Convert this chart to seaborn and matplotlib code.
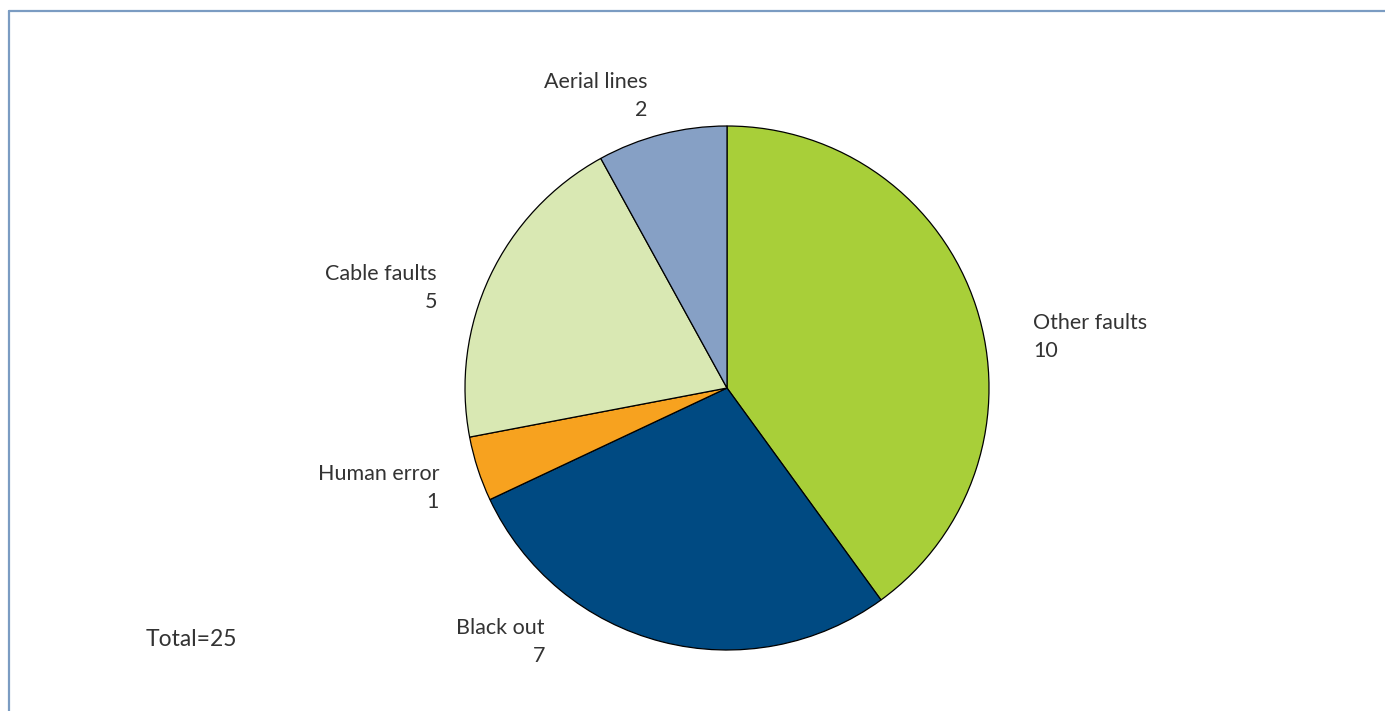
import matplotlib
matplotlib.use("Agg")
import matplotlib.pyplot as plt
import seaborn as sns
from matplotlib.lines import Line2D

# Data
causes = ["Other faults", "Black out", "Human error", "Cable faults", "Aerial lines"]
counts = [10, 7, 1, 5, 2]
colours = ["#a8cf39", "#004a82", "#f7a21f", "#d9e8b3", "#86a0c5"]
total_label = "Total=25"

sns.set_style("white")
plt.rcParams["font.family"] = ["Lato", "DejaVu Sans"]

fig = plt.figure(figsize=(13.85, 7.11), dpi=100)
ax = fig.add_axes([0, 0, 1, 1])

labels = [f"{c}\n{n}" for c, n in zip(causes, counts)]
wedges, texts = ax.pie(counts, colors=colours, labels=labels, startangle=90,
                       counterclock=False,
                       wedgeprops=dict(edgecolor="black", linewidth=0.9),
                       textprops=dict(fontsize=15.5, color="#333333", linespacing=1.5))

# label placement like the original (data units, radius = 1)
label_pos = {
    "Other faults": (1.168, 0.195, "left"),
    "Black out": (-0.695, -0.969, "right"),
    "Human error": (-1.099, -0.382, "right"),
    "Cable faults": (-1.107, 0.382, "right"),
    "Aerial lines": (-0.305, 1.115, "right"),
}
for t, c in zip(texts, causes):
    x, y, ha = label_pos[c]
    t.set_position((x, y))
    t.set_ha(ha)
    t.set_va("center")
    t.set_multialignment(ha)

# centre (727, 388) px, radius 262 px
r = 262
ax.set_xlim(-727 / r, (1385 - 727) / r)
ax.set_ylim(-(711 - 388) / r, 388 / r)
ax.set_aspect("auto")
ax.axis("off")

fig.text(146 / 1385, 1 - 640 / 711, total_label, fontsize=16.5, color="#333333",
         ha="left", va="center")

# frame lines on top and left
fig.add_artist(Line2D([8.5 / 1385, 1], [1 - 10.5 / 711] * 2, color="#7b9cc2", lw=1.6))
fig.add_artist(Line2D([8.5 / 1385] * 2, [0, 1 - 10.5 / 711], color="#7b9cc2", lw=1.6))

fig.savefig("out.png", dpi=100, facecolor="white")
